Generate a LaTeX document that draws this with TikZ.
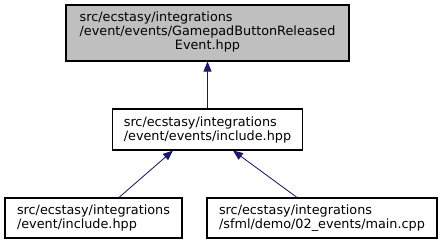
\documentclass[tikz,border=0pt]{standalone}
\usepackage{fontspec}
\setmainfont{DejaVu Sans}
\usetikzlibrary{arrows.meta}
\definecolor{edgeblue}{HTML}{191970}
\definecolor{curfill}{HTML}{BFBFBF}

\begin{document}
\begin{tikzpicture}[x=0.75pt,y=-0.75pt,font=\fontsize{9.6}{10.5}\selectfont,>={Triangle[length=7.5pt,width=6pt]},
  file/.style={draw,line width=0.8pt,align=left,inner sep=0pt,minimum height=30pt},
  dep/.style={->,draw=edgeblue,fill=edgeblue,line width=0.6pt}]
\useasboundingbox (0,0) rectangle (443,245);
% the file itself and the header that pulls it in
\node[file,fill=curfill,minimum width=212.25pt,minimum height=42pt] (gpad) at (207.5,33)
  {\begin{tabular}{@{}l@{}}src/ecstasy/integrations\\/event/events/GamepadButtonReleased\\\multicolumn{1}{@{}c@{}}{Event.hpp}\end{tabular}};
\node[file,minimum width=142.5pt,minimum height=30.75pt] (evinc) at (207.5,129.5)
  {src/ecstasy/integrations\\/event/events/include.hpp};
% files that include it
\node[file,minimum width=132.75pt] (inc) at (93.5,218)
  {src/ecstasy/integrations\\/event/include.hpp};
\node[file,minimum width=172.5pt] (demo) at (322,218)
  {src/ecstasy/integrations\\/sfml/demo/02\_events/main.cpp};
\draw[dep] (evinc.north) -- (evinc.north |- gpad.south);
\draw[dep] ([xshift=19.1pt]inc.north) -- ([xshift=-25.9pt]evinc.south);
\draw[dep] ([xshift=-18.75pt]demo.north) -- ([xshift=19.1pt]evinc.south);
\end{tikzpicture}
\end{document}
